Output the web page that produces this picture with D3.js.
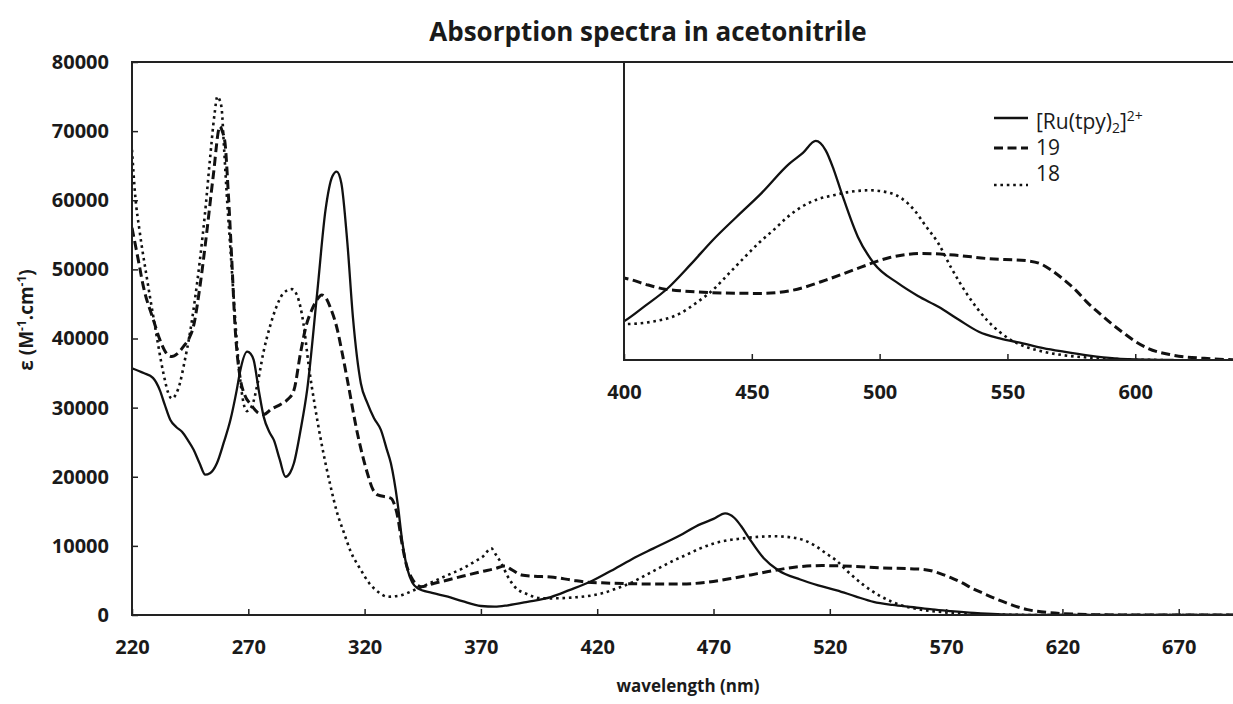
<!DOCTYPE html>
<html><head><meta charset="utf-8">
<script src="https://cdn.jsdelivr.net/npm/d3@7"></script>
<style>body{margin:0;background:#fff} text{font-family:"Open Sans",sans-serif;fill:#1a1a1a}</style>
</head><body><svg id="c" width="1233" height="704"></svg>
<script>
// ---- data (wavelength nm, epsilon M-1 cm-1) ----
const ruSpectrum = [[220,35700],[225,35000],[229,34300],[232,32500],[234,30500],[236.5,28200],[239,27200],[241.5,26500],[244,25300],[246.5,23900],[249,22000],[251.5,20300],[253.5,20500],[256.5,21950],[259.5,25000],[262.3,28200],[265,32500],[266.6,35450],[269.5,38100],[271,37800],[272.3,36900],[274.5,32500],[276.6,28700],[279,26500],[281,25300],[283.5,22500],[286,20000],[288,20600],[289.6,21950],[292.5,26800],[295.3,32560],[299.6,46550],[303.2,58600],[306.1,63430],[308,64150],[310,62470],[312.6,53790],[315,43000],[318.4,33500],[321.2,30640],[324,28500],[327,26770],[329.5,24000],[331.3,21950],[334.2,16160],[336.3,10380],[338.5,6510],[340.5,4700],[342.8,3860],[349,3200],[355.8,2650],[362,2000],[370,1300],[376,1200],[381.6,1400],[390,1900],[400,2600],[408,3600],[417,4800],[426,6400],[434.7,8040],[444,9600],[453.6,11170],[464.7,13180],[470,13900],[475,14700],[478.9,14070],[482,12800],[485.2,11170],[491.5,8260],[497.8,6480],[507.3,5140],[515,4300],[523,3570],[531,2700],[538.8,1900],[547,1450],[556,1120],[564,800],[572,560],[582,300],[592,110],[605,20],[615,0],[700,0]];
const c19Spectrum = [[220,56000],[222.7,51370],[224.9,47510],[229.2,42690],[232,39800],[234.5,38000],[237.1,37380],[239.5,37800],[242.1,38830],[244.5,40000],[246.4,41720],[249.2,47510],[252.1,55240],[254.9,63430],[257.8,70670],[258.8,70000],[260,68260],[261.4,61030],[262.9,51370],[264.3,41720],[266.4,34490],[268.5,31800],[271,30500],[274,29300],[276.6,29000],[280,29800],[284,30500],[287,31200],[289.6,32500],[292.5,38000],[295,42000],[297.3,44140],[299.5,45600],[301.6,46310],[303.5,45800],[305.1,44620],[308.3,41250],[310.3,38000],[312.6,34000],[316.9,26300],[321.2,20500],[323.5,18200],[325.6,17370],[331.3,16890],[333,15800],[334.2,14230],[336,10500],[337.8,7480],[340,5500],[342,4500],[344.2,4100],[350,4600],[355.8,5070],[362,5600],[370.1,6270],[376,6700],[380.2,7090],[383,6600],[387.4,5790],[393,5600],[400,5500],[409.5,5030],[416,4750],[422,4650],[437.9,4500],[453.6,4470],[466.2,4690],[478.9,5360],[486,5800],[493,6250],[504,6880],[516.7,7150],[529.3,7040],[542,6810],[557.7,6660],[563,6450],[567.2,6030],[572,5400],[576.7,4690],[581,3900],[586,3130],[591,2400],[595.6,1790],[600,1250],[605,780],[614.5,335],[627,110],[638,20],[650,0],[700,0]];
const c18Spectrum = [[220,67300],[221.3,61000],[223.4,55240],[226.3,48960],[229.9,41720],[233.5,34980],[235.5,32200],[237.1,31300],[239,32000],[240.6,33530],[242.5,36500],[244.9,40770],[247,45500],[249.2,51370],[251.5,58500],[253.5,65850],[255.5,72500],[256.7,75000],[257.7,74500],[258.6,73080],[259.5,68000],[260.7,61000],[262.2,53500],[263.6,46550],[265.7,36900],[267.5,31500],[269.3,29500],[271.5,30200],[274,33500],[276.5,38000],[279.3,41720],[282,44500],[285,46500],[288.7,47140],[291,46200],[293.7,42200],[296,36000],[298.5,30500],[301.1,25500],[305.4,18570],[308,15000],[311.2,11820],[314,9200],[318.4,6510],[322,4600],[326,3300],[329.9,2650],[335,2800],[341.4,3620],[348,4600],[355.8,5790],[362,6700],[367.2,7710],[371,8500],[374.4,9650],[376.5,8700],[378.8,7480],[381.5,5600],[384.5,4100],[390,3000],[396,2420],[400,2410],[411,2570],[422,3130],[428,3800],[434.7,4690],[441,5800],[447.3,6920],[453,7900],[458.4,8710],[464,9600],[469.4,10270],[476,10800],[482,11060],[489,11300],[496.2,11390],[504,11210],[509,10800],[513.6,10050],[518,9000],[523,7820],[527.8,6250],[534,4470],[542,2680],[551.4,1340],[557,900],[564,560],[572,320],[580,180],[595.6,45],[611,0],[700,0]];

const xTicks = [220,270,320,370,420,470,520,570,620,670];
const yTicks = [0,10000,20000,30000,40000,50000,60000,70000,80000];
const insetXTicks = [400,450,500,550,600];
const seriesNames = ["[Ru(tpy)2]2+","19","18"];
const titleText = "Absorption spectra in acetonitrile";
const xTitle = "wavelength (nm)";

// ---- styles ----
const styles = [
  {w:2.3, dash:null},
  {w:3, dash:"9,4.5"},
  {w:2.6, dash:"2.6,3.8"}
];
const seriesData = [ruSpectrum, c19Spectrum, c18Spectrum];

const svg = d3.select('#c');
svg.append('rect').attr('width',1233).attr('height',704).attr('fill','#fff');
const defs = svg.append('defs');

// main scales
const x = d3.scaleLinear().domain([220,700]).range([132,1248.5]);
const y = d3.scaleLinear().domain([0,80000]).range([615,62]);
defs.append('clipPath').attr('id','mclip').append('rect')
  .attr('x',x(220)).attr('y',y(80000)).attr('width',x(700)-x(220)).attr('height',y(0)-y(80000));

const mainG = svg.append('g').attr('clip-path','url(#mclip)');
const line = d3.line().x(d=>x(d[0])).y(d=>y(d[1])).curve(d3.curveMonotoneX);
seriesData.forEach((s,i)=>{
  mainG.append('path').attr('d',line(s)).attr('fill','none').attr('stroke','#111')
    .attr('stroke-width',styles[i].w).attr('stroke-dasharray',styles[i].dash)
    .attr('stroke-linejoin','round');
});

// axes
const yAxisG = svg.append('g').attr('transform',`translate(${x(220)},0)`)
  .call(d3.axisLeft(y).tickValues(yTicks).tickSizeInner(-6).tickSizeOuter(0).tickPadding(23).tickFormat(d3.format('d')));
const xAxisG = svg.append('g').attr('transform',`translate(0,${y(0)})`)
  .call(d3.axisBottom(x).tickValues(xTicks).tickSizeInner(-6).tickSizeOuter(0).tickPadding(25).tickFormat(d3.format('d')));
[yAxisG,xAxisG].forEach(g=>{
  g.select('.domain').remove();
  g.selectAll('.tick line').attr('stroke','#222').attr('stroke-width',1.5);
  g.selectAll('.tick text').attr('font-size',20).attr('font-weight',700).attr('font-family','"Open Sans",sans-serif').attr('fill','#1a1a1a');
});
// frame
svg.append('rect').attr('x',x(220)).attr('y',y(80000)).attr('width',x(700)-x(220)).attr('height',y(0)-y(80000))
  .attr('fill','none').attr('stroke','#222').attr('stroke-width',2);

// inset
const xi = d3.scaleLinear().domain([400,640]).range([624,1237.5]);
const yi = d3.scaleLinear().domain([0,20000]).range([360,62]);
svg.append('rect').attr('x',xi(400)).attr('y',yi(20000)).attr('width',xi(640)-xi(400)).attr('height',yi(0)-yi(20000)).attr('fill','#fff');
defs.append('clipPath').attr('id','iclip').append('rect')
  .attr('x',xi(400)).attr('y',yi(20000)).attr('width',xi(640)-xi(400)).attr('height',yi(0)-yi(20000));
const insetG = svg.append('g').attr('clip-path','url(#iclip)');
const lineI = d3.line().x(d=>xi(d[0])).y(d=>yi(d[1])).curve(d3.curveMonotoneX);
seriesData.forEach((s,i)=>{
  insetG.append('path').attr('d',lineI(s.filter(d=>d[0]>=390 && d[0]<=660))).attr('fill','none').attr('stroke','#111')
    .attr('stroke-width',styles[i].w).attr('stroke-dasharray',styles[i].dash)
    .attr('stroke-linejoin','round');
});
const xiAxisG = svg.append('g').attr('transform',`translate(0,${yi(0)})`)
  .call(d3.axisBottom(xi).tickValues(insetXTicks).tickSizeInner(-6).tickSizeOuter(0).tickPadding(25).tickFormat(d3.format('d')));
xiAxisG.select('.domain').remove();
xiAxisG.selectAll('.tick line').attr('stroke','#222').attr('stroke-width',1.5);
xiAxisG.selectAll('.tick text').attr('font-size',20).attr('font-weight',700).attr('font-family','"Open Sans",sans-serif').attr('fill','#1a1a1a');
svg.append('rect').attr('x',xi(400)).attr('y',yi(20000)).attr('width',xi(640)-xi(400)).attr('height',yi(0)-yi(20000))
  .attr('fill','none').attr('stroke','#222').attr('stroke-width',2);

// legend
const legY = [118, 148, 185];
const legTextY = [129, 155, 181];
seriesData.forEach((s,i)=>{
  svg.append('line').attr('x1',994).attr('x2',1028).attr('y1',legY[i]).attr('y2',legY[i])
    .attr('stroke','#111').attr('stroke-width',styles[i].w).attr('stroke-dasharray',styles[i].dash);
});
const t0 = svg.append('text').attr('x',1036).attr('y',legTextY[0]).attr('font-size',21);
t0.append('tspan').text('[Ru(tpy)');
t0.append('tspan').attr('font-size',14).attr('dy',4).text('2');
t0.append('tspan').attr('dy',-4).text(']');
t0.append('tspan').attr('font-size',14).attr('dy',-8).text('2+');
svg.append('text').attr('x',1036).attr('y',legTextY[1]).attr('font-size',21).text(seriesNames[1]);
svg.append('text').attr('x',1036).attr('y',legTextY[2]).attr('font-size',21).text(seriesNames[2]);

// titles
svg.append('text').attr('x',648).attr('y',41).attr('text-anchor','middle').attr('font-size',26).attr('font-weight',700).text(titleText);
svg.append('text').attr('x',688).attr('y',692).attr('text-anchor','middle').attr('font-size',17).attr('font-weight',700).text(xTitle);
const yt = svg.append('text').attr('transform','translate(33,320) rotate(-90)').attr('text-anchor','middle').attr('font-size',19).attr('font-weight',700);
yt.append('tspan').text('ε (M');
yt.append('tspan').attr('font-size',12).attr('dy',-7).text('-1');
yt.append('tspan').attr('dy',7).text('.cm');
yt.append('tspan').attr('font-size',12).attr('dy',-7).text('-1');
yt.append('tspan').attr('dy',7).text(')');
</script></body></html>
